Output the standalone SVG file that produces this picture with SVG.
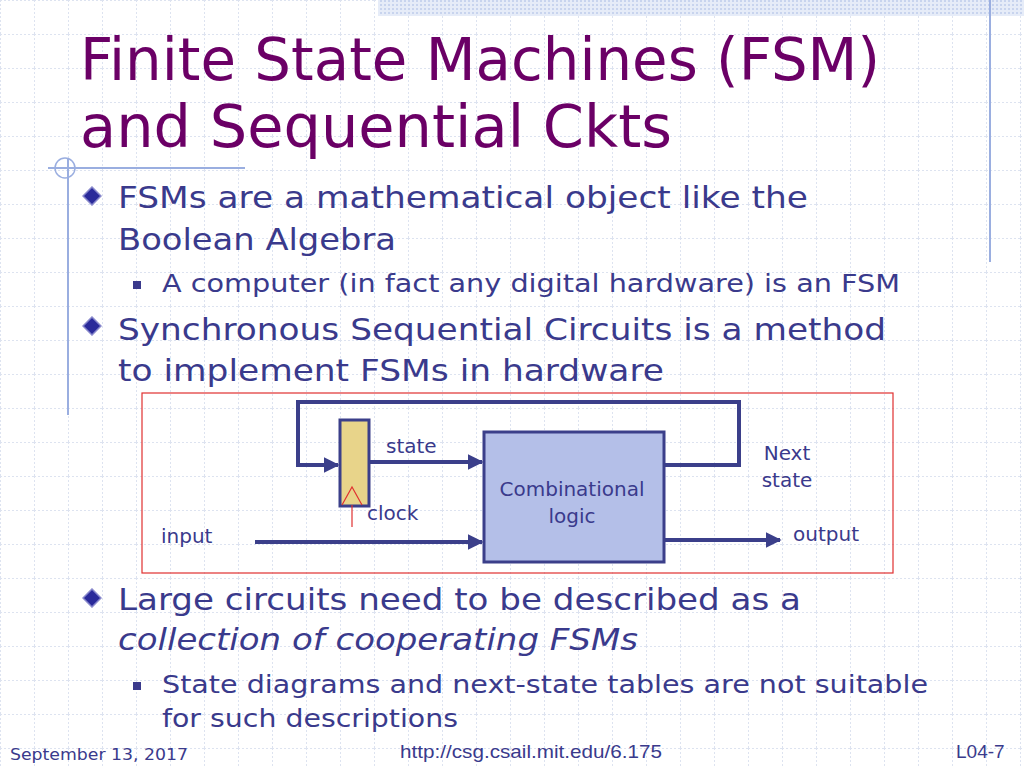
<svg xmlns="http://www.w3.org/2000/svg" width="1024" height="768" viewBox="0 0 1024 768">
<defs>
<pattern id="grid" width="34" height="34" patternUnits="userSpaceOnUse">
<path d="M0 0.5H34M0.5 0V34" stroke="#dde3f0" stroke-width="1" stroke-dasharray="2 2" fill="none"/>
</pattern>
<pattern id="dots" width="4" height="4" patternUnits="userSpaceOnUse">
<rect width="4" height="4" fill="#e6ecf8"/><rect width="2" height="2" fill="#c8d4ee"/>
</pattern>
<marker id="arr" viewBox="0 0 10 10" refX="9" refY="5" markerWidth="4" markerHeight="4" orient="auto">
<path d="M0 0L10 5L0 10z" fill="#3b3f8a"/>
</marker>
<symbol id="dia" viewBox="-10 -10 20 20"><path d="M0 -9L9 0L0 9L-9 0z" fill="#2a2a9a" stroke="#8888cc" stroke-width="1.5"/></symbol>
</defs>
<style>
.t{font-family:"DejaVu Sans",Verdana,sans-serif;fill:#6b0066;font-size:58px}
.b{font-family:"DejaVu Sans",Verdana,sans-serif;fill:#3a3a8c;font-size:31px}
.s{font-family:"DejaVu Sans",Verdana,sans-serif;fill:#3a3a8c;font-size:25px}
.l{font-family:"DejaVu Sans",Verdana,sans-serif;fill:#3a3a8c;font-size:20px}
.w{stroke:#3b3f8a;stroke-width:4;fill:none}
.f{font-family:"Liberation Sans",Arial,sans-serif;fill:#3a3a8c;font-size:19px}
</style>
<rect width="1024" height="768" fill="#ffffff"/>
<rect width="1024" height="768" fill="url(#grid)"/>
<rect x="378" y="0" width="646" height="16" fill="url(#dots)"/>
<line x1="990" y1="0" x2="990" y2="262" stroke="#9aaee0" stroke-width="2"/>
<line x1="48" y1="168" x2="245" y2="168" stroke="#9aaee0" stroke-width="2"/>
<line x1="68" y1="158" x2="68" y2="415" stroke="#9aaee0" stroke-width="2"/>
<circle cx="65" cy="168" r="10" fill="none" stroke="#9aaee0" stroke-width="1.5"/>

<text class="t" x="80" y="80" textLength="800" lengthAdjust="spacingAndGlyphs">Finite State Machines (FSM)</text>
<text class="t" x="80" y="147" textLength="592" lengthAdjust="spacingAndGlyphs">and  Sequential Ckts</text>

<use href="#dia" x="82" y="186" width="20" height="20"/>
<text class="b" x="118" y="208" textLength="690" lengthAdjust="spacingAndGlyphs">FSMs are a mathematical object like the</text>
<text class="b" x="118" y="250" textLength="278" lengthAdjust="spacingAndGlyphs">Boolean Algebra</text>
<rect x="133" y="281" width="8" height="8" fill="#3a3a8c"/>
<text class="s" x="162" y="292" textLength="738" lengthAdjust="spacingAndGlyphs">A computer (in fact any digital hardware) is an FSM</text>
<use href="#dia" x="82" y="316" width="20" height="20"/>
<text class="b" x="118" y="340" textLength="768" lengthAdjust="spacingAndGlyphs">Synchronous Sequential Circuits is a method</text>
<text class="b" x="118" y="381" textLength="546" lengthAdjust="spacingAndGlyphs">to implement FSMs in hardware</text>

<rect x="142" y="393" width="751" height="180" fill="none" stroke="#e03030" stroke-width="1.2"/>

<g id="connectors">
<polyline class="w" points="665,465 739,465 739,402 298,402 298,465 338,465" marker-end="url(#arr)"/>
<line class="w" x1="370" y1="462" x2="482" y2="462" marker-end="url(#arr)"/>
<line class="w" x1="255" y1="542" x2="482" y2="542" marker-end="url(#arr)"/>
<line class="w" x1="665" y1="540" x2="780" y2="540" marker-end="url(#arr)"/>
</g>
<g id="register">
<rect x="340" y="420" width="29" height="86" fill="#e8d48a" stroke="#3b3f8a" stroke-width="3"/>
<polyline points="342,505 352,487 362,505" fill="none" stroke="#e03030" stroke-width="1.2"/>
<line x1="352" y1="505" x2="352" y2="527" stroke="#e03030" stroke-width="1.2"/>
</g>
<g id="comb">
<rect x="484" y="432" width="180" height="130" fill="#b4bfe8" stroke="#3b3f8a" stroke-width="3"/>
<text class="l" x="572" y="496" text-anchor="middle">Combinational</text>
<text class="l" x="572" y="523" text-anchor="middle">logic</text>
</g>
<text class="l" x="386" y="453">state</text>
<text class="l" x="787" y="460" text-anchor="middle">Next</text>
<text class="l" x="787" y="487" text-anchor="middle">state</text>
<text class="l" x="367" y="520">clock</text>
<text class="l" x="161" y="543">input</text>
<text class="l" x="793" y="541">output</text>

<use href="#dia" x="82" y="588" width="20" height="20"/>
<text class="b" x="118" y="610" textLength="683" lengthAdjust="spacingAndGlyphs">Large circuits need to be described as a</text>
<text class="b" x="118" y="650" font-style="italic" textLength="520" lengthAdjust="spacingAndGlyphs">collection of cooperating FSMs</text>
<rect x="133" y="682" width="8" height="8" fill="#3a3a8c"/>
<text class="s" x="162" y="693" textLength="766" lengthAdjust="spacingAndGlyphs">State diagrams and next-state tables are not suitable</text>
<text class="s" x="162" y="727" textLength="296" lengthAdjust="spacingAndGlyphs">for such descriptions</text>

<text x="10" y="760" textLength="178" lengthAdjust="spacingAndGlyphs" style="font-family:'DejaVu Sans',Verdana,sans-serif;fill:#3a3a8c;font-size:16px">September 13, 2017</text>
<text class="f" x="400" y="758" textLength="262" lengthAdjust="spacingAndGlyphs">http://csg.csail.mit.edu/6.175</text>
<text class="f" x="956" y="758">L04-7</text>
</svg>
